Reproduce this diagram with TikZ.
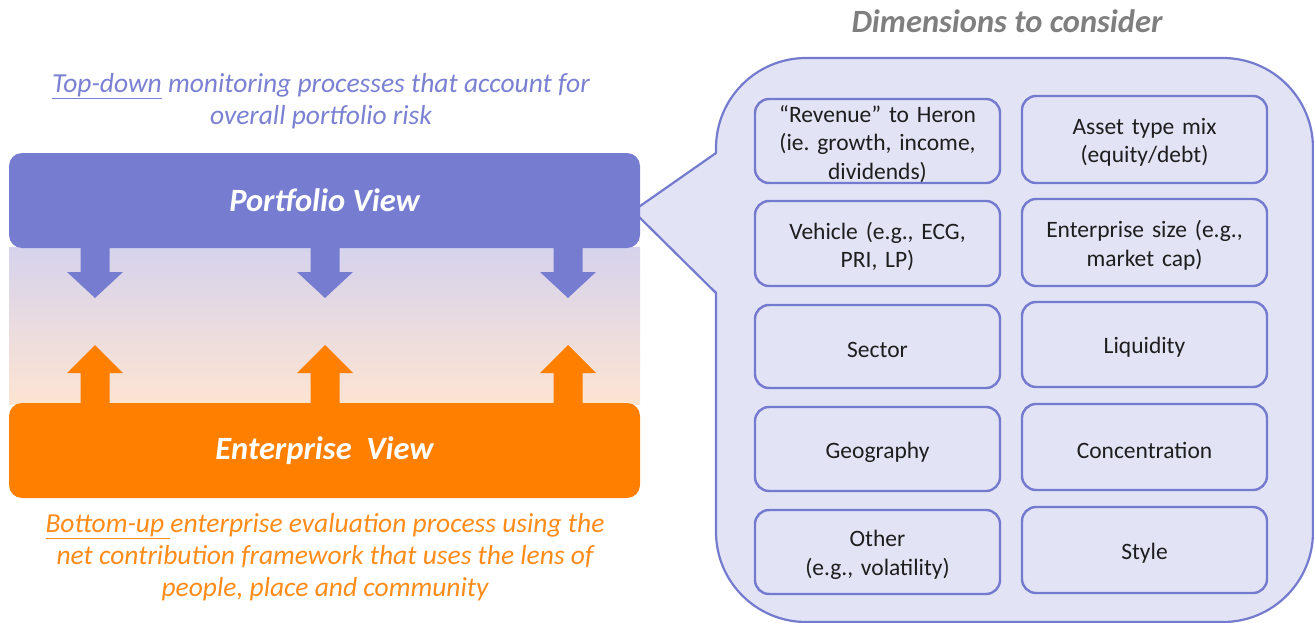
\documentclass[tikz,border=0pt]{standalone}
\usepackage{fontspec}
\setmainfont{Carlito}
\frenchspacing
\definecolor{pview}{RGB}{118,124,208}
\definecolor{orng}{RGB}{255,128,0}
\definecolor{otxt}{RGB}{255,140,26}
\definecolor{ptxt}{RGB}{122,128,210}
\definecolor{callfill}{RGB}{226,227,245}
\definecolor{callline}{RGB}{116,122,206}
\definecolor{gradtop}{RGB}{214,211,236}
\definecolor{gradbot}{RGB}{253,228,211}
\definecolor{ttl}{RGB}{127,127,127}
\definecolor{dtxt}{RGB}{30,30,30}
\newcommand\dimbx[4]{%
  \node[dimbox, minimum height=#3] (#1) at #2 {};
  \node[dimtxt] (#1t) at ([yshift=-3pt]#1.center) {#4};
}
\begin{document}
\begin{tikzpicture}[x=1pt,y=-1pt,
  viewbox/.style={rounded corners=13pt, minimum width=631pt, minimum height=95pt, inner sep=0pt, text=white, font=\fontsize{32.5}{38}\selectfont\bfseries\itshape},
  dimbox/.style={draw=callline, line width=2.4pt, rounded corners=14pt, minimum width=245pt, inner sep=0pt},
  dimtxt/.style={inner sep=0pt, text width=240pt, align=center, text=dtxt, font=\fontsize{23.5}{28.5}\selectfont},
  sidetxt/.style={align=center, inner sep=0pt, font=\fontsize{27.5}{32}\selectfont\itshape}
]
\useasboundingbox (0,0) rectangle (1314,623);
% gradient band
\shade[top color=gradtop, bottom color=gradbot] (9,247.5) rectangle (640,404);
% callout
\node[draw=callline, fill=callfill, line width=2.2pt, rounded corners=90pt, minimum width=597pt, minimum height=564pt, inner sep=0pt] (call) at (1014.5,340) {};
\fill[callfill] (718,153) -- (633,211) -- (718,293) -- cycle;
\draw[callline, line width=2.2pt, line join=miter] (716,153) -- (633,211) -- (716,293);
% arrows
\foreach \cx in {95,325,568}{
  \fill[pview] (\cx-14.5,240) -- (\cx+14.5,240) -- (\cx+14.5,272) -- (\cx+28,272) -- (\cx,298) -- (\cx-28,272) -- (\cx-14.5,272) -- cycle;
  \fill[orng] (\cx-14.5,410) -- (\cx+14.5,410) -- (\cx+14.5,373) -- (\cx+28,373) -- (\cx,345) -- (\cx-28,373) -- (\cx-14.5,373) -- cycle;
}
% view boxes
\node[viewbox, fill=pview] (pv) at (324.5,200.5) {Portfolio View};
\node[viewbox, fill=orng] (ev) at (324.5,450.5) {Enterprise\ \ View};
% texts
\node[sidetxt, text=ptxt] (toptxt) at (321,101) {\underline{Top-down} monitoring processes that account for\\overall portfolio risk};
\node[sidetxt, text=otxt] (bottxt) at (325,557) {\underline{Bottom-up }enterprise evaluation process using the\\net contribution framework that uses the lens of\\people, place and community};
\node[font=\fontsize{32.5}{38}\selectfont\bfseries\itshape, text=ttl, inner sep=0pt] (title) at (1007,21) {Dimensions to consider};
% dimension boxes
\dimbx{d1}{(877.5,141)}{84pt}{“Revenue” to Heron\\(ie. growth, income,\\dividends)}
\dimbx{d2}{(1144.5,139.5)}{87pt}{Asset type mix\\(equity/debt)}
\dimbx{d3}{(877.5,243.5)}{85pt}{Vehicle (e.g., ECG,\\PRI, LP)}
\dimbx{d4}{(1144.5,242.5)}{87pt}{Enterprise size (e.g.,\\market cap)}
\dimbx{d5}{(877.5,346.5)}{83pt}{Sector}
\dimbx{d6}{(1144.5,344.5)}{85pt}{Liquidity}
\dimbx{d7}{(877.5,449)}{84pt}{Geography}
\dimbx{d8}{(1144.5,447)}{86pt}{Concentration}
\dimbx{d9}{(877.5,552)}{84pt}{Other\\(e.g., volatility)}
\dimbx{d10}{(1144.5,550)}{86pt}{Style}
\end{tikzpicture}
\end{document}
